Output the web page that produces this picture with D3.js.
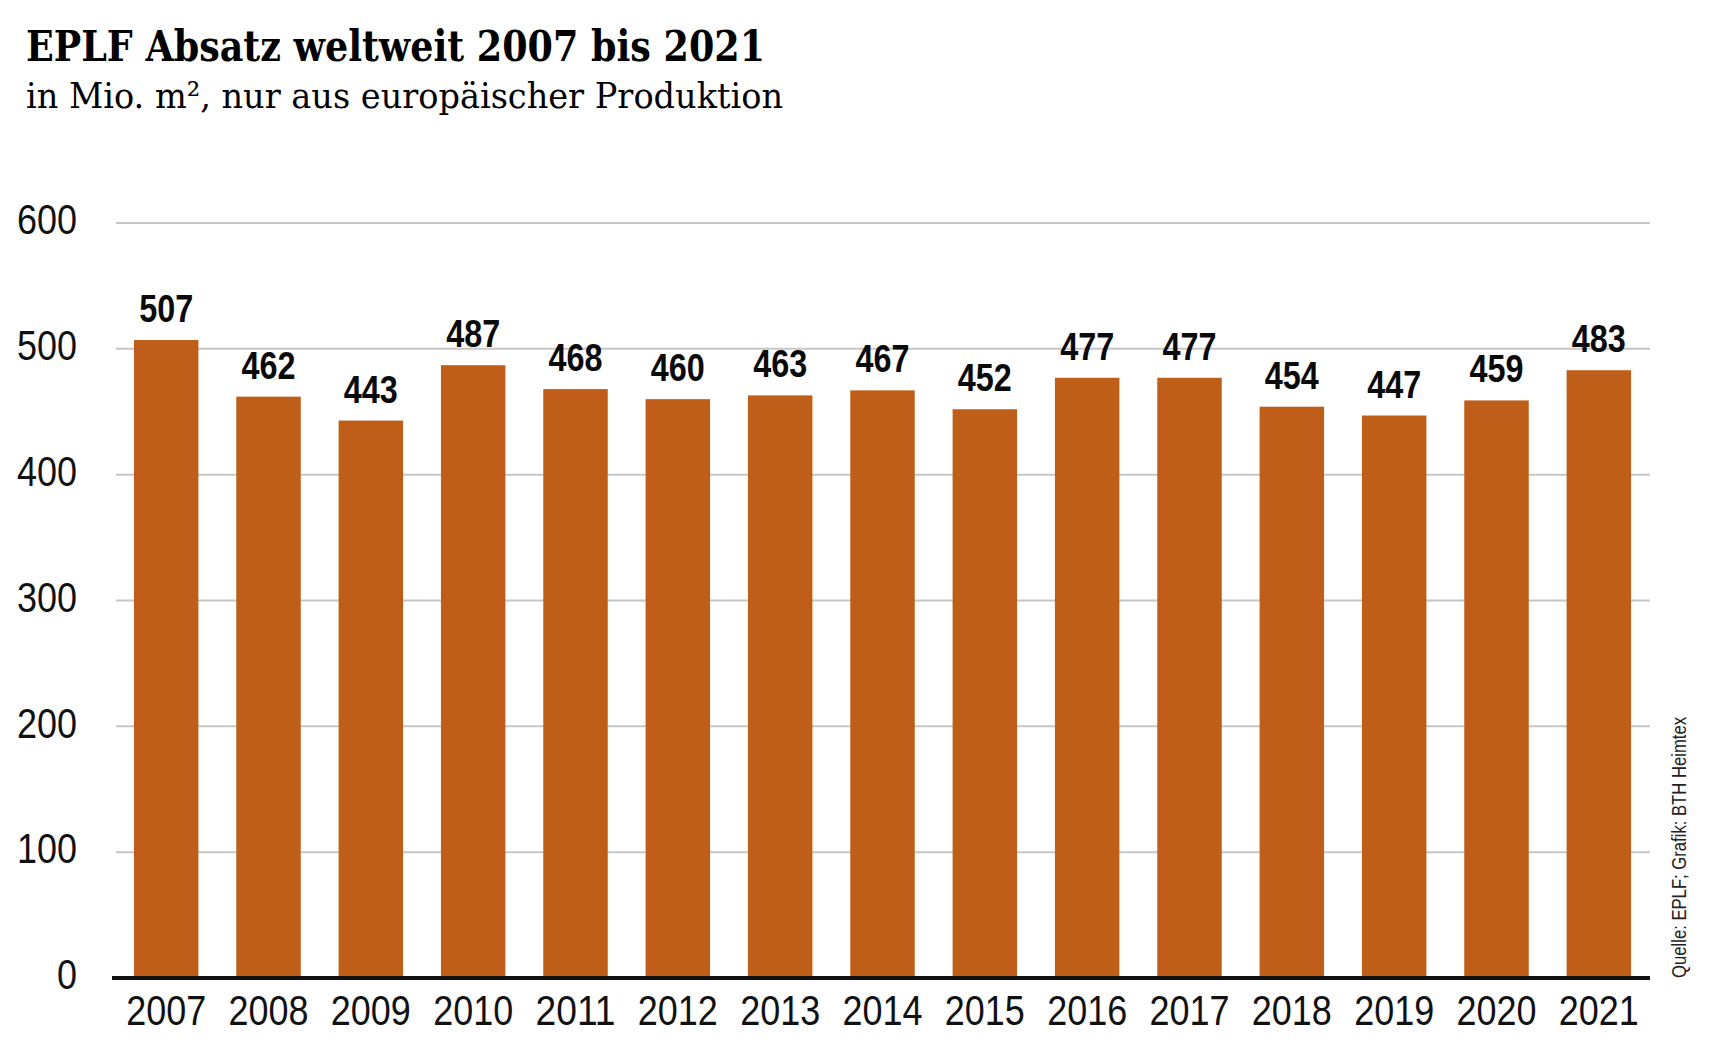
<!DOCTYPE html>
<html>
<head>
<meta charset="utf-8">
<script src="https://cdn.jsdelivr.net/npm/d3@7"></script>
<style>
  body { margin: 0; background: #fff; }
  svg { display: block; }
</style>
</head>
<body>
<div id="chart"></div>
<script>
// data
const years = ["2007", "2008", "2009", "2010", "2011", "2012", "2013", "2014",
  "2015", "2016", "2017", "2018", "2019", "2020", "2021"];
const sales = [507, 462, 443, 487, 468, 460, 463, 467, 452, 477, 477, 454, 447, 459, 483];
const yTicks = [0, 100, 200, 300, 400, 500, 600];

const WIDTH = 1711;
const HEIGHT = 1064;
const BAR_COLOR = "#bf5e18";
const SANS = "'Liberation Sans', Arial, sans-serif";
const SLAB = "'DejaVu Serif Condensed', 'DejaVu Serif', serif";

const data = years.map((y, i) => ({ year: y, value: sales[i] }));

// squeeze a label to a condensed look (no narrow font available)
function squeeze(sel, perChar) {
  sel.attr("textLength", function () {
    return this.textContent.length * perChar;
  }).attr("lengthAdjust", "spacingAndGlyphs");
}

const svg = d3.select("#chart")
  .append("svg")
  .attr("width", WIDTH)
  .attr("height", HEIGHT);

// scales
const x = d3.scaleBand()
  .domain(years)
  .range([115, 1650])
  .paddingInner(0.37)
  .paddingOuter(0.185);

const y = d3.scaleLinear()
  .domain([0, 600])
  .range([978, 223]);

// title + subtitle
svg.append("text")
  .attr("x", 26)
  .attr("y", 61)
  .attr("textLength", 739)
  .attr("lengthAdjust", "spacingAndGlyphs")
  .style("font-family", SLAB)
  .style("font-weight", "bold")
  .style("font-size", "43px")
  .text("EPLF Absatz weltweit 2007 bis 2021");

svg.append("text")
  .attr("x", 26)
  .attr("y", 108)
  .attr("textLength", 757)
  .attr("lengthAdjust", "spacingAndGlyphs")
  .style("font-family", SLAB)
  .style("font-weight", "300")
  .style("font-size", "36px")
  .text("in Mio. m², nur aus europäischer Produktion");

// gridlines (behind bars)
const grid = svg.append("g").attr("class", "grid");
grid.selectAll("line")
  .data(yTicks.filter((d) => d > 0))
  .enter()
  .append("line")
  .attr("x1", 116)
  .attr("x2", 1650)
  .attr("y1", (d) => y(d))
  .attr("y2", (d) => y(d))
  .style("stroke", "#c6c6c6")
  .style("stroke-width", 2);

// y axis labels
const yAxisCall = d3.axisLeft(y).tickValues(yTicks).tickSize(0).tickPadding(0);
const yAxis = svg.append("g")
  .attr("transform", "translate(77,0)")
  .call(yAxisCall);
yAxis.select(".domain").remove();
yAxis.selectAll("text")
  .attr("dy", "0.25em")
  .style("font-family", SANS)
  .style("font-size", "43px")
  .style("fill", "#111")
  .call(squeeze, 20);

// bars
svg.append("g")
  .selectAll("rect")
  .data(data)
  .enter()
  .append("rect")
  .attr("x", (d) => x(d.year))
  .attr("width", x.bandwidth())
  .attr("y", (d) => y(d.value))
  .attr("height", (d) => y(0) - y(d.value))
  .style("fill", BAR_COLOR);

// value labels
svg.append("g")
  .selectAll("text")
  .data(data)
  .enter()
  .append("text")
  .attr("x", (d) => x(d.year) + x.bandwidth() / 2)
  .attr("y", (d) => y(d.value) - 18)
  .attr("text-anchor", "middle")
  .style("font-family", SANS)
  .style("font-weight", "bold")
  .style("font-size", "38px")
  .style("fill", "#0a0a0a")
  .text((d) => d.value)
  .call(squeeze, 18);

// baseline
svg.append("line")
  .attr("x1", 112)
  .attr("x2", 1650)
  .attr("y1", y(0))
  .attr("y2", y(0))
  .style("stroke", "#111")
  .style("stroke-width", 4);

// x axis labels
const xAxisCall = d3.axisBottom(x).tickSize(0).tickPadding(0);
const xAxis = svg.append("g")
  .attr("transform", `translate(0,${y(0)})`)
  .call(xAxisCall);
xAxis.select(".domain").remove();
xAxis.selectAll("text")
  .attr("dy", null)
  .attr("y", 47)
  .style("font-family", SANS)
  .style("font-size", "43px")
  .style("fill", "#111")
  .call(squeeze, 20);

// source, rotated
svg.append("text")
  .attr("transform", "translate(1686,978) rotate(-90)")
  .attr("textLength", 261)
  .attr("lengthAdjust", "spacingAndGlyphs")
  .style("font-family", SANS)
  .style("font-size", "20px")
  .style("fill", "#222")
  .text("Quelle: EPLF; Grafik: BTH Heimtex");
</script>
</body>
</html>
